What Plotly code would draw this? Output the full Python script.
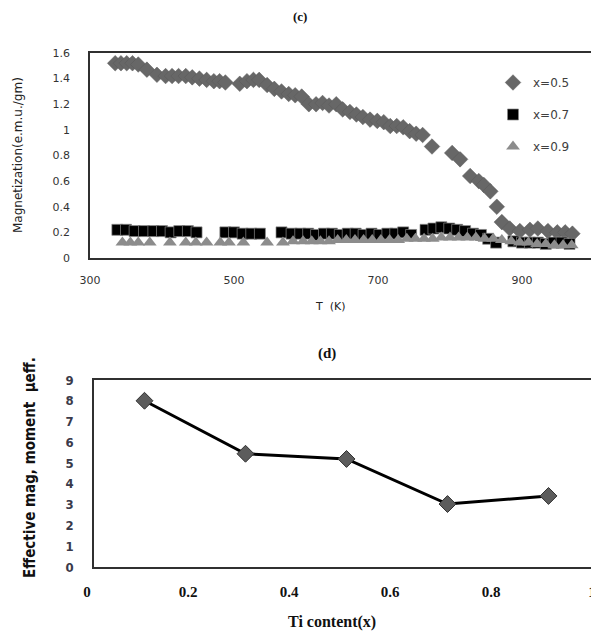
import plotly.graph_objects as go

# (c) magnetisation vs temperature
t_05 = [335, 343, 351, 359, 367, 379, 393, 405, 414, 423, 433, 442, 452, 462, 472, 480, 488,
        508, 518, 527, 535, 546, 556, 566, 576, 585, 594, 604, 614, 623, 632, 642, 651, 661,
        670, 679, 689, 699, 708, 717, 726, 735, 744, 753, 762, 775, 803, 814, 828, 840, 847,
        856, 865, 872, 883, 897, 911, 922, 936, 949, 960, 970]
m_05 = [1.52, 1.52, 1.52, 1.52, 1.51, 1.47, 1.43, 1.42, 1.42, 1.42, 1.42, 1.41, 1.40, 1.39,
        1.38, 1.38, 1.37, 1.36, 1.38, 1.39, 1.39, 1.35, 1.32, 1.30, 1.28, 1.27, 1.26, 1.20,
        1.20, 1.21, 1.19, 1.20, 1.16, 1.14, 1.12, 1.10, 1.08, 1.07, 1.06, 1.03, 1.03, 1.02,
        0.99, 0.97, 0.96, 0.87, 0.82, 0.77, 0.64, 0.60, 0.57, 0.52, 0.40, 0.28, 0.23, 0.21,
        0.22, 0.23, 0.21, 0.20, 0.20, 0.19]

t_07 = [338, 350, 362, 375, 388, 400, 412, 424, 436, 448, 488, 500, 512, 524, 536, 566, 580,
        592, 603, 614, 625, 636, 647, 658, 669, 680, 691, 702, 713, 724, 735, 746, 766, 777,
        788, 799, 810, 821, 832, 843, 853, 864, 888, 900, 911, 922, 933, 944, 955, 966]
m_07 = [0.22, 0.22, 0.21, 0.21, 0.21, 0.21, 0.20, 0.21, 0.21, 0.20, 0.20, 0.20, 0.19, 0.19,
        0.19, 0.20, 0.19, 0.19, 0.19, 0.18, 0.19, 0.19, 0.18, 0.19, 0.19, 0.18, 0.19, 0.18,
        0.19, 0.19, 0.20, 0.18, 0.22, 0.23, 0.24, 0.23, 0.22, 0.21, 0.19, 0.18, 0.15, 0.12,
        0.13, 0.12, 0.12, 0.12, 0.11, 0.12, 0.12, 0.11]

t_09 = [345, 356, 367, 383, 411, 433, 447, 462, 481, 493, 513, 546, 568, 582, 596, 608, 620,
        632, 644, 656, 668, 680, 692, 704, 716, 728, 740, 752, 764, 776, 788, 800, 812, 824,
        836, 848, 860, 872, 885, 897, 909, 921, 933, 945, 957, 969]
m_09 = [0.12, 0.12, 0.12, 0.12, 0.12, 0.12, 0.12, 0.12, 0.12, 0.12, 0.12, 0.12, 0.12, 0.13,
        0.13, 0.13, 0.13, 0.13, 0.14, 0.14, 0.14, 0.14, 0.14, 0.14, 0.14, 0.14, 0.15, 0.15,
        0.15, 0.15, 0.16, 0.16, 0.16, 0.16, 0.16, 0.15, 0.15, 0.14, 0.13, 0.12, 0.12, 0.11,
        0.11, 0.10, 0.10, 0.10]

# (d) effective moment vs Ti content
ti_x = [0.1, 0.3, 0.5, 0.7, 0.9]
mu_eff = [8.0, 5.45, 5.2, 3.03, 3.42]

SANS = "DejaVu Sans"
SERIF = "Liberation Serif"
COND = "DejaVu Sans Condensed"

# the page body has an 8px margin, so the figure is drawn 8px in from the corner
OFF = 8
W, H = 599 - OFF, 637 - OFF


def fx(px):
    return (px - OFF) / W


def fy(py):
    return 1 - (py - OFF) / H


fig = go.Figure()

fig.add_trace(go.Scatter(x=t_05, y=m_05, mode="markers", name="x=0.5", legendgroup="a",
                         marker=dict(symbol="diamond", size=12, color="#676767",
                                     line=dict(color="#5a5a5a", width=0.5)),
                         xaxis="x", yaxis="y"))
fig.add_trace(go.Scatter(x=t_07, y=m_07, mode="markers", name="x=0.7", legendgroup="b",
                         marker=dict(symbol="square", size=11, color="#000000",
                                     line=dict(color="#888888", width=0.7)),
                         xaxis="x", yaxis="y"))
fig.add_trace(go.Scatter(x=t_09, y=m_09, mode="markers", name="x=0.9", legendgroup="c",
                         marker=dict(symbol="triangle-up", size=12, color="#8c8c8c"),
                         xaxis="x", yaxis="y"))

fig.add_trace(go.Scatter(x=ti_x, y=mu_eff, mode="lines+markers", showlegend=False,
                         line=dict(color="#000000", width=3),
                         marker=dict(symbol="diamond", size=13, color="#5c5c5c",
                                     line=dict(color="#333333", width=1)),
                         xaxis="x2", yaxis="y2"))

fig.update_layout(
    width=W, height=H,
    margin=dict(l=0, r=0, t=0, b=0, autoexpand=False),
    paper_bgcolor="white", plot_bgcolor="white",
    showlegend=True,
    legend=dict(x=fx(493), y=fy(68), xanchor="left", yanchor="top", bgcolor="rgba(0,0,0,0)",
                font=dict(family=SANS, size=12, color="#404040"), tracegroupgap=13),
    xaxis=dict(domain=[fx(90), fx(594)], anchor="y", range=[300, 1000], tickvals=[300, 500, 700, 900],
               showgrid=False, zeroline=False, showline=True, linecolor="#303030", linewidth=1.5,
               mirror=True, ticks="", ticklabelstandoff=11,
               tickfont=dict(family=SANS, size=11, color="#333333")),
    yaxis=dict(domain=[fy(258), fy(53)], anchor="x", range=[0, 1.6], dtick=0.2,
               showgrid=False, zeroline=False, showline=True, linecolor="#303030", linewidth=1.5,
               mirror=True, ticks="", ticklabelstandoff=16,
               tickfont=dict(family=SANS, size=11, color="#333333")),
    xaxis2=dict(domain=[fx(94), 1.0], anchor="y2", range=[0, 1], dtick=0.2,
                showgrid=False, zeroline=False, showline=True, linecolor="#303030", linewidth=1.5,
                mirror=True, ticks="", ticklabelstandoff=10, ticklabelshift=-7,
                ticklabeloverflow="allow",
                tickfont=dict(family=SERIF, size=15, color="#111111", weight="bold")),
    yaxis2=dict(domain=[fy(567), fy(380)], anchor="x2", range=[0, 9], dtick=1,
                showgrid=False, zeroline=False, showline=True, linecolor="#303030", linewidth=1.5,
                mirror=False, ticks="", ticklabelstandoff=16,
                tickfont=dict(family=COND, size=13, color="#3a3a4a", weight="bold")),
)


def label(text, px, py, font, angle=0):
    # px, py: pixel position in the reference picture
    fig.add_annotation(text=text, x=fx(px), y=fy(py), xref="paper", yref="paper",
                       xanchor="center", yanchor="middle", showarrow=False,
                       textangle=angle, font=font)


label("<b>(c)</b>", 300, 16, dict(family=SERIF, size=13, color="#111111"))
label("<b>(d)</b>", 327, 353, dict(family=SERIF, size=15, color="#111111"))
label("T  (K)", 330, 306, dict(family=SANS, size=11, color="#222222"))
label("Magnetization(e.m.u./gm)", 18, 155, dict(family=SANS, size=12, color="#222222"), -90)
label("<b>Ti content(x)</b>", 332, 622, dict(family=SERIF, size=16, color="#111111"))
label("<b>Effective mag, moment  μeff.</b>", 30, 468,
      dict(family=COND, size=15, color="#111111"), -90)

fig.write_html("out.html")
